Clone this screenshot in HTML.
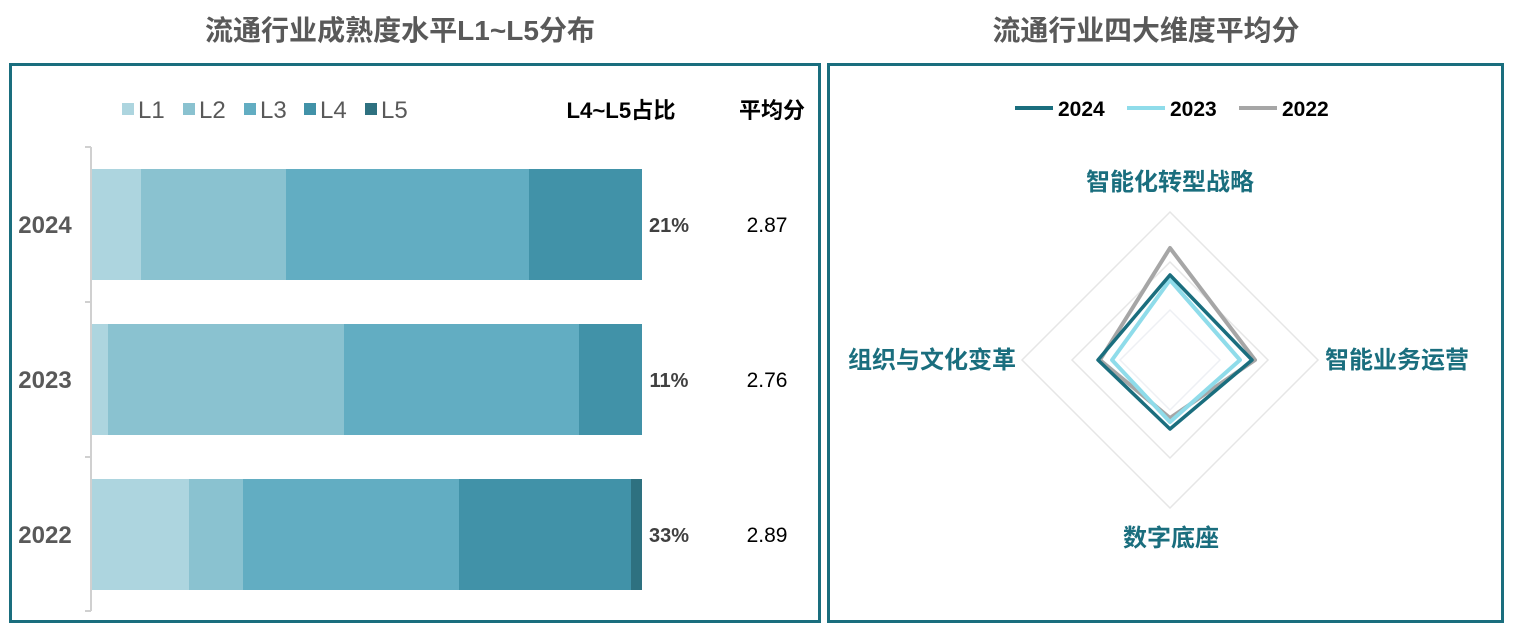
<!DOCTYPE html><html><head><meta charset="utf-8"><style>
body{margin:0;width:1514px;height:630px;background:#fff;overflow:hidden;font-family:"Liberation Sans","Noto Sans CJK SC",sans-serif}
</style></head><body>
<svg width="1514" height="630" xmlns="http://www.w3.org/2000/svg" font-family="Liberation Sans, Noto Sans CJK SC, sans-serif">
<text x="400" y="40" text-anchor="middle" font-size="28" font-weight="bold" fill="#595959" textLength="390" lengthAdjust="spacingAndGlyphs">流通行业成熟度水平L1~L5分布</text>
<text x="1146" y="40" text-anchor="middle" font-size="28" font-weight="bold" fill="#595959" textLength="307" lengthAdjust="spacingAndGlyphs">流通行业四大维度平均分</text>
<rect x="10.5" y="64.5" width="809" height="557" fill="none" stroke="#1a6e7e" stroke-width="3"/>
<rect x="828.5" y="64.5" width="674" height="557" fill="none" stroke="#1a6e7e" stroke-width="3"/>
<g font-size="24" fill="#595959">
<rect x="122" y="103" width="12" height="12" fill="#add5df"/><text x="138" y="118">L1</text>
<rect x="183" y="103" width="12" height="12" fill="#8ac2d0"/><text x="199" y="118">L2</text>
<rect x="244" y="103" width="12" height="12" fill="#62adc2"/><text x="260" y="118">L3</text>
<rect x="304" y="103" width="12" height="12" fill="#4192a8"/><text x="320" y="118">L4</text>
<rect x="365" y="103" width="12" height="12" fill="#2e7180"/><text x="381" y="118">L5</text>
</g>
<text x="621" y="118" text-anchor="middle" font-size="22" font-weight="bold" fill="#000" textLength="109" lengthAdjust="spacingAndGlyphs">L4~L5占比</text>
<text x="772" y="118" text-anchor="middle" font-size="22" font-weight="bold" fill="#000">平均分</text>
<g stroke="#d0d0d0" stroke-width="2" fill="none">
<line x1="91" y1="147" x2="91" y2="611"/>
<line x1="85" y1="147" x2="91" y2="147"/><line x1="85" y1="302" x2="91" y2="302"/>
<line x1="85" y1="457" x2="91" y2="457"/><line x1="85" y1="611" x2="91" y2="611"/>
</g>
<rect x="92" y="169" width="49" height="111" fill="#add5df"/><rect x="141" y="169" width="145" height="111" fill="#8ac2d0"/><rect x="286" y="169" width="243" height="111" fill="#62adc2"/><rect x="529" y="169" width="113" height="111" fill="#4192a8"/>
<rect x="92" y="324" width="16" height="111" fill="#add5df"/><rect x="108" y="324" width="236" height="111" fill="#8ac2d0"/><rect x="344" y="324" width="235" height="111" fill="#62adc2"/><rect x="579" y="324" width="63" height="111" fill="#4192a8"/>
<rect x="92" y="479" width="97" height="111" fill="#add5df"/><rect x="189" y="479" width="54" height="111" fill="#8ac2d0"/><rect x="243" y="479" width="216" height="111" fill="#62adc2"/><rect x="459" y="479" width="172" height="111" fill="#4192a8"/><rect x="631" y="479" width="11" height="111" fill="#2e7180"/>
<g font-size="24" font-weight="bold" fill="#595959" text-anchor="middle">
<text x="45" y="233">2024</text><text x="45" y="388">2023</text><text x="45" y="543">2022</text>
</g>
<g font-size="20" font-weight="bold" fill="#404040" text-anchor="middle">
<text x="669" y="232">21%</text><text x="669" y="387">11%</text><text x="669" y="542">33%</text>
</g>
<g font-size="21" fill="#000" text-anchor="middle">
<text x="767" y="232">2.87</text><text x="767" y="387">2.76</text><text x="767" y="542">2.89</text>
</g>
<line x1="1015" y1="108" x2="1053" y2="108" stroke="#1a6e7e" stroke-width="4"/><text x="1058" y="116" font-size="21" font-weight="bold">2024</text>
<line x1="1127" y1="108" x2="1165" y2="108" stroke="#8fdcea" stroke-width="4"/><text x="1170" y="116" font-size="21" font-weight="bold">2023</text>
<line x1="1239" y1="108" x2="1277" y2="108" stroke="#a6a6a6" stroke-width="4"/><text x="1282" y="116" font-size="21" font-weight="bold">2022</text>
<g fill="none" stroke="#e6e6e6" stroke-width="1.5">
<polygon points="1170,212 1318,360 1170,508 1022,360"/>
<polygon points="1170,262 1268,360 1170,458 1072,360"/>
<polygon points="1170,310 1220,360 1170,410 1120,360" stroke="#eef0f4"/>
</g>
<g fill="none" stroke-width="4" stroke-linejoin="round">
<polygon points="1170,248 1255,360 1170,418 1100,360" stroke="#a6a6a6"/>
<polygon points="1170,280 1240,360 1170,422 1112,360" stroke="#8fdcea"/>
<polygon points="1170,275 1252,360 1170,429 1098,360" stroke="#1a6e7e" stroke-width="3.5"/>
</g>
<g font-size="24" font-weight="bold" fill="#1a6e7e" text-anchor="middle">
<text x="1170" y="190">智能化转型战略</text>
<text x="1397" y="368">智能业务运营</text>
<text x="932" y="368">组织与文化变革</text>
<text x="1171" y="546">数字底座</text>
</g>
</svg>
</body></html>
